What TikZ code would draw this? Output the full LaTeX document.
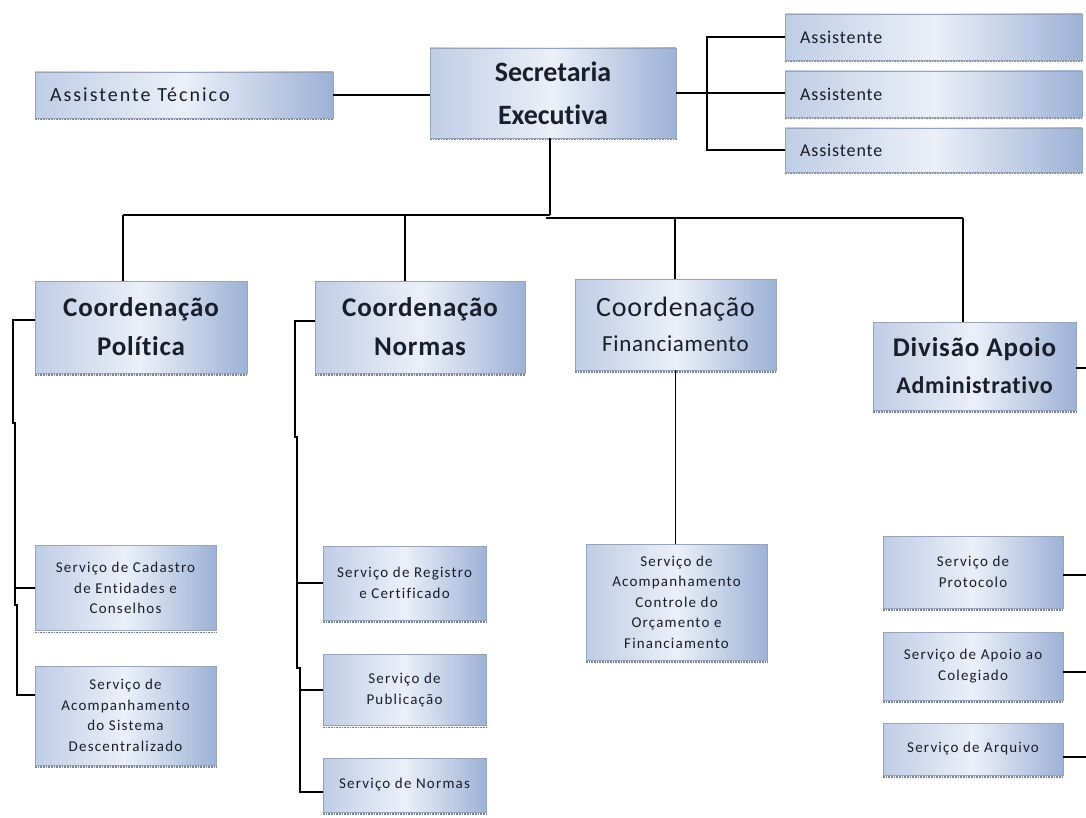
\documentclass[tikz,border=0pt]{standalone}
\usepackage{fontspec}
\setmainfont[Ligatures={NoCommon}]{Carlito}
\usetikzlibrary{calc}
\definecolor{boxL}{HTML}{BFCDE6}
\definecolor{boxM}{HTML}{EBF0F8}
\definecolor{boxR}{HTML}{9DB2D7}
\definecolor{boxD}{HTML}{97A3B8}
\definecolor{ink}{HTML}{1A1D2A}
\tikzset{
  orgbox/.style={draw=boxD, line width=0.6pt, left color=boxL, right color=boxR, middle color=boxM,
    inner sep=0pt, align=center, text=ink},
  bigbold/.style={font=\fontsize{27}{39}\selectfont\bfseries\addfontfeature{LetterSpace=3}},
  asst/.style={font=\fontsize{18}{20}\selectfont\addfontfeature{LetterSpace=5}, align=left, text width=#1},
  serv/.style={font=\fontsize{15}{20.5}\selectfont\addfontfeature{LetterSpace=8}},
  conn/.style={line width=1.8pt, black},
  botline/.style={draw=boxD!80!black, line width=1.4pt, dash pattern=on 0.8pt off 0.8pt}
}
\begin{document}
\begin{tikzpicture}[x=1pt,y=-1pt]
\useasboundingbox (0,0) rectangle (1086,818);
\fill[white] (0,0) rectangle (1086,818);

% top level
\node[orgbox, minimum width=298pt, minimum height=46pt, asst=268pt, font=\fontsize{20}{20}\selectfont\addfontfeature{LetterSpace=10}] (at) at (184,95) {Assistente Técnico};
\node[orgbox, minimum width=246pt, minimum height=90pt, font=\fontsize{28}{43}\selectfont\bfseries] (sec) at (553,93) {Secretaria\\Executiva};
\node[orgbox, minimum width=297pt, minimum height=46pt, asst=267pt] (as1) at (933.5,37) {Assistente};
\node[orgbox, minimum width=297pt, minimum height=46pt, asst=267pt] (as2) at (933.5,94) {Assistente};
\node[orgbox, minimum width=297pt, minimum height=44pt, asst=267pt] (as3) at (933.5,150) {Assistente};

% coordinations
\node[orgbox, minimum width=212pt, minimum height=92pt, bigbold] (cp) at (141,327) {Coordenação\\Política};
\node[orgbox, minimum width=210pt, minimum height=92pt, bigbold] (cn) at (420,327) {Coordenação\\Normas};
\node[orgbox, minimum width=201pt, minimum height=91pt, font=\fontsize{28}{35}\selectfont\addfontfeature{LetterSpace=3}] (cf) at (675.5,324.5) {Coordenação\\{\fontsize{23}{24}\selectfont Financiamento}};
\node[orgbox, minimum width=203pt, minimum height=88pt, font=\fontsize{27}{37}\selectfont\bfseries\addfontfeature{LetterSpace=3}] (da) at (974.5,366) {Divisão Apoio\\{\fontsize{24}{25}\selectfont Administrativo}};

% services
\node[orgbox, minimum width=181pt, minimum height=85pt, serv] (s1) at (125.5,588) {Serviço de Cadastro\\de Entidades e\\Conselhos};
\node[orgbox, minimum width=181pt, minimum height=99pt, serv] (s2) at (125.5,715.5) {Serviço de\\Acompanhamento\\do Sistema\\Descentralizado};
\node[orgbox, minimum width=163pt, minimum height=74pt, serv] (s3) at (404.5,583) {Serviço de Registro\\e Certificado};
\node[orgbox, minimum width=163pt, minimum height=71pt, serv] (s4) at (404.5,690) {Serviço de\\Publicação};
\node[orgbox, minimum width=163pt, minimum height=54pt, serv] (s5) at (404.5,785) {Serviço de Normas};
\node[orgbox, minimum width=181pt, minimum height=116pt, serv] (s6) at (676.5,602) {Serviço de\\Acompanhamento\\Controle do\\Orçamento e\\Financiamento};
\node[orgbox, minimum width=180pt, minimum height=72pt, serv] (s7) at (973,572) {Serviço de\\Protocolo};
\node[orgbox, minimum width=180pt, minimum height=68pt, serv] (s8) at (973,666) {Serviço de Apoio ao\\Colegiado};
\node[orgbox, minimum width=180pt, minimum height=52pt, serv] (s9) at (973,749) {Serviço de Arquivo};

\foreach \n in {at,sec,as1,as2,as3,cp,cn,cf,da,s1,s2,s3,s4,s5,s6,s7,s8,s9}
  \draw[botline] ([yshift=-1.5pt]\n.south west) -- ([yshift=-1.5pt]\n.south east);

% connectors top
\draw[conn] (at.east) -- (at.east -| sec.west);
\coordinate (rb) at (707,93);
\draw[conn] (sec.east) -- (rb);
\draw[conn] (as1.west) -| (rb |- as3.west) -- (as3.west);
\draw[conn] (rb) -- (rb -| as2.west);

% bus
\coordinate (bc) at (550,215);
\coordinate (b1) at (123,215);
\coordinate (b2) at (405,215);
\coordinate (b3) at (675,218);
\coordinate (b4) at (963,218);
\draw[conn] (sec.south -| bc) -- (bc);
\draw[conn] (b1) -- (bc);
\draw[conn] ($(bc)+(-4,3)$) -- (b4);
\draw[conn] (b1) -- (b1 |- cp.north);
\draw[conn] (b2) -- (b2 |- cn.north);
\draw[conn] (b3) -- (b3 |- cf.north);
\draw[conn] (b4) -- (b4 |- da.north);

% Politica trunk
\coordinate (p1) at (13,320);
\coordinate (p2) at (13,423);
\coordinate (p3) at (15,423);
\coordinate (p4) at (15,605);
\coordinate (p5) at (17,605);
\coordinate (p6) at (17,695);
\draw[conn] ([yshift=7pt]cp.west) -- (p1) -- (p2) -- (p3) -- (p4) -- (p5) -- (p6) -- (p6 -| s2.west);
\draw[conn] (s1.west -| p3) -- (s1.west);

% Normas trunk
\coordinate (n1) at (295,321);
\coordinate (n2) at (295,437);
\coordinate (n3) at (297,437);
\coordinate (n4) at (297,668);
\coordinate (n5) at (300,668);
\coordinate (n6) at (300,792);
\draw[conn] ([yshift=6pt]cn.west) -- (n1) -- (n2) -- (n3) -- (n4) -- (n5) -- (n6) -- (n6 -| s5.west);
\draw[conn] (s3.west -| n3) -- (s3.west);
\draw[conn] (s4.west -| n5) -- (s4.west);

% Financiamento
\draw[conn] (cf.south) -- (cf.south |- s6.north);

% Divisao (to the right edge)
\coordinate (edge) at (1086,0);
\draw[conn] ([yshift=-2pt]da.east) -- ([yshift=-2pt]da.east -| edge);
\draw[conn] ([yshift=-3pt]s7.east) -- ([yshift=-3pt]s7.east -| edge);
\draw[conn] ([yshift=-6pt]s8.east) -- ([yshift=-6pt]s8.east -| edge);
\draw[conn] ([yshift=-8pt]s9.east) -- ([yshift=-8pt]s9.east -| edge);
\end{tikzpicture}
\end{document}
